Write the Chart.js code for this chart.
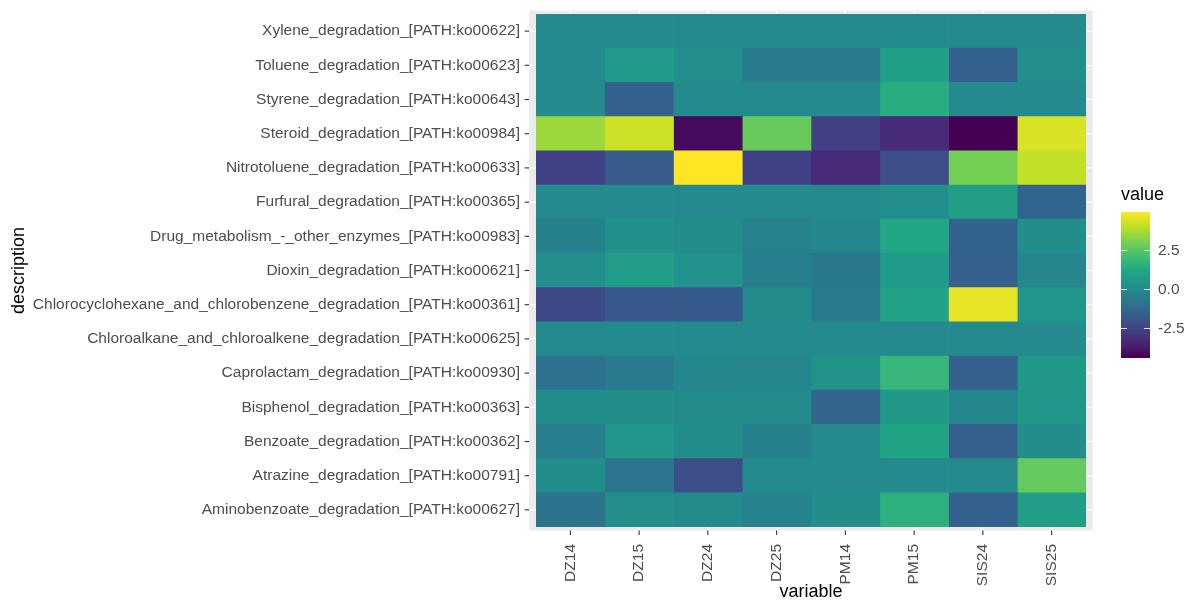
<!DOCTYPE html>
<html>
  <head>
    <script src="https://cdn.jsdelivr.net/npm/chart.js"></script>
    <style>
      body { margin: 0; background: #fff; }
    </style>
  </head>
  <body>
    <canvas id="myChart" width="1187" height="601"></canvas>
    <script>
      const variables = ['DZ14', 'DZ15', 'DZ24', 'DZ25', 'PM14', 'PM15', 'SIS24', 'SIS25'];

      // top to bottom, as drawn
      const descriptions = [
        'Xylene_degradation_[PATH:ko00622]',
        'Toluene_degradation_[PATH:ko00623]',
        'Styrene_degradation_[PATH:ko00643]',
        'Steroid_degradation_[PATH:ko00984]',
        'Nitrotoluene_degradation_[PATH:ko00633]',
        'Furfural_degradation_[PATH:ko00365]',
        'Drug_metabolism_-_other_enzymes_[PATH:ko00983]',
        'Dioxin_degradation_[PATH:ko00621]',
        'Chlorocyclohexane_and_chlorobenzene_degradation_[PATH:ko00361]',
        'Chloroalkane_and_chloroalkene_degradation_[PATH:ko00625]',
        'Caprolactam_degradation_[PATH:ko00930]',
        'Bisphenol_degradation_[PATH:ko00363]',
        'Benzoate_degradation_[PATH:ko00362]',
        'Atrazine_degradation_[PATH:ko00791]',
        'Aminobenzoate_degradation_[PATH:ko00627]'
      ];

      // one array per variable, same row order as descriptions
      const DZ14  = [0.0, 0.0, 0.0, 3.53, -2.6, 0.0, -0.35, 0.2, -2.34, 0.02, -0.9, 0.15, -0.4, 0.15, -0.82];
      const DZ15  = [0.0, 0.65, -1.5, 4.24, -1.72, 0.0, 0.25, 0.78, -1.86, 0.02, -0.6, 0.1, 0.45, -0.77, 0.2];
      const DZ24  = [0.0, 0.2, 0.0, -4.14, 4.94, 0.0, 0.15, 0.3, -1.8, 0.02, -0.1, 0.05, 0.1, -2.17, 0.05];
      const DZ25  = [0.0, -0.58, 0.0, 2.74, -2.6, 0.0, -0.3, -0.4, 0.05, 0.02, -0.15, 0.05, -0.35, 0.0, -0.3];
      const PM14  = [0.0, -0.58, 0.0, -2.64, -3.3, 0.0, -0.1, -0.68, -0.6, -0.02, 0.35, -1.4, 0.0, 0.0, 0.1];
      const PM15  = [0.0, 0.85, 1.4, -3.3, -2.17, 0.2, 1.1, 0.65, 0.92, -0.02, 1.76, 0.6, 1.0, 0.0, 1.5];
      const SIS24 = [0.0, -1.55, 0.0, -4.42, 2.96, 0.79, -1.46, -1.55, 4.62, -0.02, -1.5, -0.1, -1.6, 0.0, -1.55];
      const SIS25 = [0.0, 0.2, 0.0, 4.42, 4.08, -1.39, 0.15, -0.15, 0.47, -0.02, 0.59, 0.5, 0.1, 2.68, 0.73];

      const columns = [DZ14, DZ15, DZ24, DZ25, PM14, PM15, SIS24, SIS25];
      const legendTicks = [2.5, 0, -2.5];

      const allValues = columns.flat();
      const vMin = Math.min(...allValues);
      const vMax = Math.max(...allValues);

      const viridisStops = ['#440154', '#482475', '#414487', '#355f8d', '#2a788e', '#21918c',
                            '#22a884', '#44bf70', '#7ad151', '#bddf26', '#fde725'];
      const hex = h => [1, 3, 5].map(i => parseInt(h.slice(i, i + 2), 16));

      function viridis(t) {
        t = Math.max(0, Math.min(1, t));
        const p = t * (viridisStops.length - 1);
        const i = Math.min(Math.floor(p), viridisStops.length - 2);
        const f = p - i;
        const a = hex(viridisStops[i]), b = hex(viridisStops[i + 1]);
        const c = a.map((v, k) => Math.round(v + (b[k] - v) * f));
        return `rgb(${c[0]}, ${c[1]}, ${c[2]})`;
      }
      const colorFor = v => viridis((v - vMin) / (vMax - vMin));

      const labelFont = { family: 'Liberation Sans', size: 15.5 };
      const titleFont = { family: 'Liberation Sans', size: 18, lineHeight: 1 };

      // ggplot-style panel, tick marks and colourbar
      const ggPlugin = {
        id: 'gg',
        beforeDraw(chart) {
          const { ctx, chartArea: a, scales } = chart;
          const ex = (a.right - a.left) / variables.length * 0.1;
          const ey = (a.bottom - a.top) / descriptions.length * 0.1;
          ctx.save();
          ctx.fillStyle = '#EBEBEB';
          ctx.fillRect(a.left - ex, a.top - ey, a.right - a.left + 2 * ex, a.bottom - a.top + 2 * ey);
          ctx.strokeStyle = '#fff';
          ctx.lineWidth = 1.2;
          variables.forEach((v, i) => {
            const x = scales.x.getPixelForValue(i + 0.5);
            ctx.beginPath(); ctx.moveTo(x, a.top - ey); ctx.lineTo(x, a.bottom + ey); ctx.stroke();
          });
          descriptions.forEach((d, i) => {
            const y = scales.y.getPixelForValue(i);
            ctx.beginPath(); ctx.moveTo(a.left - ex, y); ctx.lineTo(a.right + ex, y); ctx.stroke();
          });
          ctx.restore();
        },
        afterDraw(chart) {
          const { ctx, chartArea: a, scales } = chart;
          const ex = (a.right - a.left) / variables.length * 0.1;
          const ey = (a.bottom - a.top) / descriptions.length * 0.1;
          ctx.save();
          ctx.strokeStyle = '#333333';
          ctx.lineWidth = 1.1;
          variables.forEach((v, i) => {
            const x = scales.x.getPixelForValue(i + 0.5);
            ctx.beginPath(); ctx.moveTo(x, a.bottom + ey); ctx.lineTo(x, a.bottom + ey + 4.5); ctx.stroke();
          });
          descriptions.forEach((d, i) => {
            const y = scales.y.getPixelForValue(i);
            ctx.beginPath(); ctx.moveTo(a.left - ex, y); ctx.lineTo(a.left - ex - 4.5, y); ctx.stroke();
          });

          // colourbar legend
          const bx = 1121, bw = 29, bTop = 212, bBot = 358;
          for (let y = bTop; y < bBot; y++) {
            ctx.fillStyle = viridis(1 - (y + 0.5 - bTop) / (bBot - bTop));
            ctx.fillRect(bx, y, bw, 1);
          }
          const valY = v => bBot - (v - vMin) / (vMax - vMin) * (bBot - bTop);
          ctx.strokeStyle = 'rgba(255,255,255,0.85)';
          ctx.lineWidth = 1;
          ctx.fillStyle = '#4D4D4D';
          ctx.font = '15.5px "Liberation Sans"';
          ctx.textBaseline = 'middle';
          ctx.textAlign = 'left';
          legendTicks.forEach(v => {
            const y = Math.round(valY(v)) + 0.5;
            ctx.beginPath(); ctx.moveTo(bx, y); ctx.lineTo(bx + 6, y); ctx.stroke();
            ctx.beginPath(); ctx.moveTo(bx + bw - 6, y); ctx.lineTo(bx + bw, y); ctx.stroke();
            ctx.fillText(v.toFixed(1), bx + bw + 8, y);
          });
          ctx.fillStyle = '#000';
          ctx.font = '18px "Liberation Sans"';
          ctx.textBaseline = 'alphabetic';
          ctx.fillText('value', bx, 200);
          ctx.restore();
        }
      };

      const data = {
        labels: descriptions,
        datasets: variables.map((v, j) => ({
          label: v,
          data: descriptions.map(() => 1),
          backgroundColor: columns[j].map(colorFor),
          borderWidth: 0,
          barPercentage: 1,
          categoryPercentage: 1,
          stack: 'cells'
        }))
      };

      const config = {
        type: 'bar',
        data: data,
        plugins: [ggPlugin],
        options: {
          indexAxis: 'y',
          responsive: false,
          animation: false,
          layout: { padding: { left: 0, top: 14, right: 101, bottom: 0 } },
          plugins: { legend: { display: false }, tooltip: { enabled: false } },
          scales: {
            x: {
              type: 'linear',
              stacked: true,
              min: 0,
              max: variables.length,
              grid: { display: false, drawTicks: false },
              border: { display: false },
              afterBuildTicks: scale => {
                scale.ticks = variables.map((v, i) => ({ value: i + 0.5 }));
              },
              afterFit: scale => {
                scale.height = 74;
                scale.paddingLeft = 0;
                scale.paddingRight = 0;
              },
              ticks: {
                autoSkip: false,
                minRotation: 90,
                maxRotation: 90,
                padding: 17,
                color: '#4D4D4D',
                font: labelFont,
                callback: value => variables[Math.floor(value)]
              },
              title: {
                display: true,
                text: 'variable',
                color: '#000',
                font: titleFont,
                padding: { top: 0, bottom: 0 }
              }
            },
            y: {
              type: 'category',
              stacked: true,
              grid: { display: false, drawTicks: false },
              border: { display: false },
              afterFit: scale => {
                scale.width = 536;
                scale.paddingTop = 0;
                scale.paddingBottom = 0;
              },
              ticks: {
                autoSkip: false,
                padding: 16,
                color: '#4D4D4D',
                font: labelFont
              },
              title: {
                display: true,
                text: 'description',
                color: '#000',
                font: titleFont,
                padding: { top: 10, bottom: 0 }
              }
            }
          }
        }
      };

      const ctx = document.getElementById('myChart').getContext('2d');
      const myChart = new Chart(ctx, config);
    </script>
  </body>
</html>
